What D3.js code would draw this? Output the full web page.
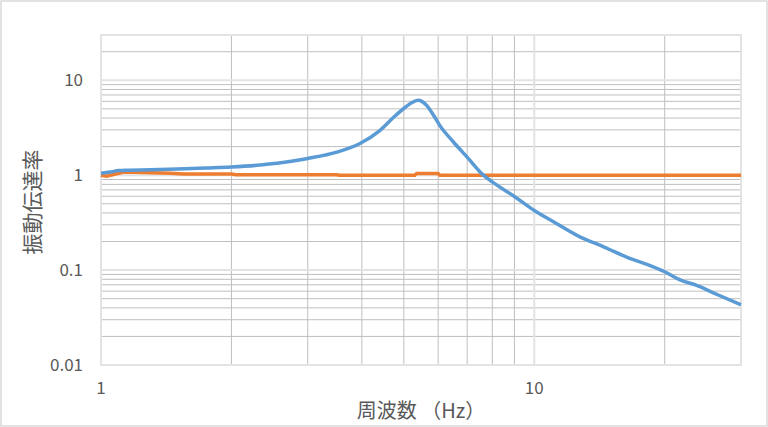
<!DOCTYPE html>
<html>
<head>
<meta charset="utf-8">
<script src="https://cdn.jsdelivr.net/npm/d3@7"></script>
<style>
  body { margin: 0; background: #fff; }
  svg text { font-family: "Noto Sans CJK JP", "Noto Sans", sans-serif; fill: #595959; }
</style>
</head>
<body>
<div id="chart"></div>
<script>
// blue: vibration transmissibility (measured)
var blueFreq = [1.00, 1.05, 1.10, 1.15, 1.30, 1.50, 1.75, 2.00, 2.33, 2.75, 3.00, 3.50, 3.96, 4.40, 4.77, 5.04, 5.20, 5.39, 5.50, 5.65, 5.85, 6.05, 6.50, 7.00, 7.63, 8.00, 9.03, 10.0, 11.0, 12.74, 14.5, 16.6, 18.2, 20.0, 21.7, 23.7, 26.5, 30.0]
var blueVals = [1.05, 1.08, 1.12, 1.13, 1.14, 1.16, 1.19, 1.22, 1.28, 1.40, 1.50, 1.75, 2.16, 2.95, 4.20, 5.20, 5.75, 6.15, 6.00, 5.40, 4.30, 3.35, 2.25, 1.55, 1.00, 0.85, 0.59, 0.425, 0.329, 0.224, 0.175, 0.133, 0.115, 0.096, 0.079, 0.069, 0.055, 0.043]
// orange: reference ~1
var orangeFreq = [1.00, 1.03, 1.08, 1.13, 1.25, 1.45, 1.55, 2.00, 2.05, 3.50, 3.55, 5.30, 5.35, 6.00, 6.05, 30.0]
var orangeVals = [1.00, 0.975, 1.03, 1.08, 1.07, 1.05, 1.03, 1.03, 1.01, 1.01, 1.00, 1.00, 1.04, 1.04, 1.00, 1.00]

var xTicks = [1, 10]
var yTicks = [0.01, 0.1, 1, 10]
var yTitle = '振動伝達率'
var xTitle = '周波数 （Hz）'

var W = 768, H = 427
var m = {left: 101, right: 27, top: 35, bottom: 62}

var svg = d3.select('#chart').append('svg')
    .attr('width', W).attr('height', H)

svg.append('rect')
  .attr('x', 1).attr('y', 1).attr('width', W - 2).attr('height', H - 2)
  .attr('fill', '#fff').attr('stroke', '#d9d9d9').attr('stroke-width', 1.5)

var x = d3.scaleLog().domain([1, 30]).range([m.left, W - m.right])
var y = d3.scaleLog().domain([0.01, 30]).range([H - m.bottom, m.top])

// minor gridlines (darker), then major (lighter)
var minorX = [], minorY = []
;[1, 10].forEach(d => { for (var k = 2; k <= 9; k++) if (d * k <= 30) minorX.push(d * k) })
;[0.01, 0.1, 1, 10].forEach(d => { for (var k = 2; k <= 9; k++) if (d * k <= 30) minorY.push(d * k) })

var grid = svg.append('g')
grid.selectAll('.minx').data(minorX).enter().append('line')
  .attr('x1', d => x(d)).attr('x2', d => x(d))
  .attr('y1', m.top).attr('y2', H - m.bottom)
  .attr('stroke', '#bfbfbf').attr('stroke-width', 1)
grid.selectAll('.miny').data(minorY).enter().append('line')
  .attr('y1', d => y(d)).attr('y2', d => y(d))
  .attr('x1', m.left).attr('x2', W - m.right)
  .attr('stroke', '#bfbfbf').attr('stroke-width', 1)
grid.selectAll('.majx').data(xTicks).enter().append('line')
  .attr('x1', d => x(d)).attr('x2', d => x(d))
  .attr('y1', m.top).attr('y2', H - m.bottom)
  .attr('stroke', '#e3e3e3').attr('stroke-width', 2)
grid.selectAll('.majy').data(yTicks).enter().append('line')
  .attr('y1', d => y(d)).attr('y2', d => y(d))
  .attr('x1', m.left).attr('x2', W - m.right)
  .attr('stroke', '#e3e3e3').attr('stroke-width', 2)
grid.append('rect')
  .attr('x', m.left).attr('y', m.top)
  .attr('width', W - m.left - m.right).attr('height', H - m.top - m.bottom)
  .attr('fill', 'none').attr('stroke', '#e3e3e3').attr('stroke-width', 2)

// tick labels
svg.selectAll('.ylbl').data(yTicks).enter().append('text')
  .attr('x', m.left - 18).attr('y', d => y(d))
  .attr('dy', '0.36em').attr('text-anchor', 'end')
  .attr('font-size', 17)
  .text(d => d)
svg.selectAll('.xlbl').data(xTicks).enter().append('text')
  .attr('x', d => x(d)).attr('y', H - m.bottom + 29)
  .attr('text-anchor', 'middle')
  .attr('font-size', 17)
  .text(d => d)

// series
var line = d3.line().x(d => x(d[0])).y(d => y(d[1]))
svg.append('path')
  .datum(d3.zip(orangeFreq, orangeVals))
  .attr('d', line)
  .attr('fill', 'none').attr('stroke', '#ED7D31').attr('stroke-width', 3.5)
svg.append('path')
  .datum(d3.zip(blueFreq, blueVals))
  .attr('d', line.curve(d3.curveMonotoneX))
  .attr('fill', 'none').attr('stroke', '#5B9BD5').attr('stroke-width', 3.5)
  .attr('stroke-linejoin', 'round')

// axis titles
svg.append('text')
  .attr('transform', 'translate(40,' + 202 + ') rotate(-90)')
  .attr('text-anchor', 'middle').attr('font-size', 21)
  .text(yTitle)
svg.append('text')
  .attr('x', 421).attr('y', 418)
  .attr('text-anchor', 'middle').attr('font-size', 20)
  .text(xTitle)
</script>
</body>
</html>
